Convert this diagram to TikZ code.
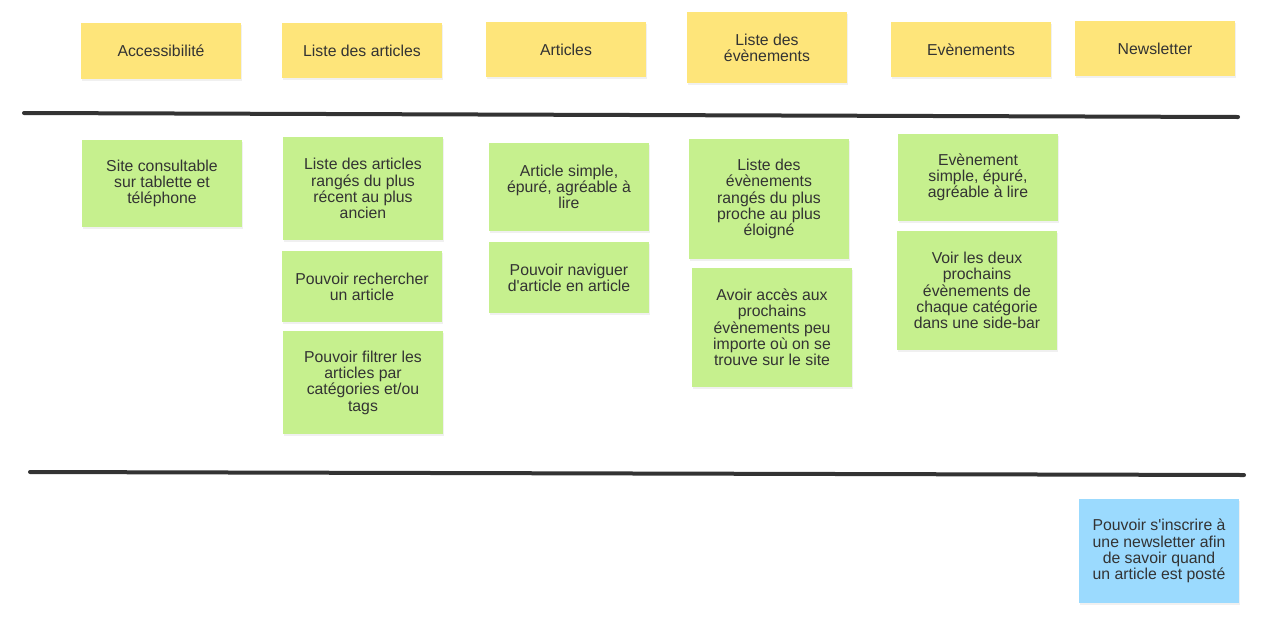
\documentclass[tikz,border=0pt]{standalone}
\usepackage{fontspec}
\setmainfont{Liberation Sans}
\usetikzlibrary{shadows}
\definecolor{jaune}{HTML}{FEE57A}
\definecolor{vert}{HTML}{C6F08E}
\definecolor{bleu}{HTML}{9BDAFE}
\definecolor{encre}{HTML}{333333}
\tikzset{
  note/.style={minimum width=160pt, align=center, inner sep=0pt, text=encre,
    font=\fontsize{15.8}{16.3}\selectfont,
    drop shadow={shadow xshift=1pt, shadow yshift=-1.5pt, opacity=0.12}},
  theme/.style={note, fill=jaune},
  besoin/.style={note, fill=vert},
  plustard/.style={note, fill=bleu},
  separation/.style={line width=4pt, encre, line cap=round}
}
\begin{document}
\begin{tikzpicture}[x=1pt, y=-1pt]
     \useasboundingbox (0,0) rectangle (1265,619);
     % themes
     \node[theme, minimum height=56pt] (acc) at (161,51) {Accessibilité};
     \node[theme, minimum height=55pt] (listeArt) at (362,50.5) {Liste des articles};
     \node[theme, minimum height=55pt] (art) at (566,49.5) {Articles};
     \node[theme, minimum height=71pt] (listeEvt) at (767,47.5) {Liste des\\évènements};
     \node[theme, minimum height=55pt] (evt) at (971,49.5) {Evènements};
     \node[theme, minimum height=55pt] (news) at (1155,48.5) {Newsletter};
     % separations
     \coordinate (sepA1) at (24,113);
     \coordinate (sepA2) at (1238,117);
     \coordinate (sepB1) at (30,472);
     \coordinate (sepB2) at (1244,475);
     \draw[separation] (sepA1)--(sepA2);
     \draw[separation] (sepB1)--(sepB2);
     % besoins
     \node[besoin, minimum height=87pt] (acc1) at (162,183.5) {Site consultable\\sur tablette et\\téléphone};
     \node[besoin, minimum height=103pt] (listeArt1) at (363,188.5) {Liste des articles\\rangés du plus\\récent au plus\\ancien};
     \node[besoin, minimum height=71pt] (listeArt2) at (362,286.5) {Pouvoir rechercher\\un article};
     \node[besoin, minimum height=103pt] (listeArt3) at (363,382.5) {Pouvoir filtrer les\\articles par\\catégories et/ou\\tags};
     \node[besoin, minimum height=88pt] (art1) at (569,187) {Article simple,\\épuré, agréable à\\lire};
     \node[besoin, minimum height=71pt] (art2) at (569,277.5) {Pouvoir naviguer\\d\textquotesingle article en article};
     \node[besoin, minimum height=120pt] (listeEvt1) at (769,199) {Liste des\\évènements\\rangés du plus\\proche au plus\\éloigné};
     \node[besoin, minimum height=119pt] (listeEvt2) at (772,327.5) {Avoir accès aux\\prochains\\évènements peu\\importe où on se\\trouve sur le site};
     \node[besoin, minimum height=87pt] (evt1) at (978,177.5) {Evènement\\simple, épuré,\\agréable à lire};
     \node[besoin, minimum height=119pt] (evt2) at (977,290.5) {Voir les deux\\prochains\\évènements de\\chaque catégorie\\dans une side-bar};
     % plus tard
     \node[plustard, minimum height=104pt] (news1) at (1159,551) {Pouvoir s\textquotesingle inscrire à\\une newsletter afin\\de savoir quand\\un article est posté};
\end{tikzpicture}
\end{document}
